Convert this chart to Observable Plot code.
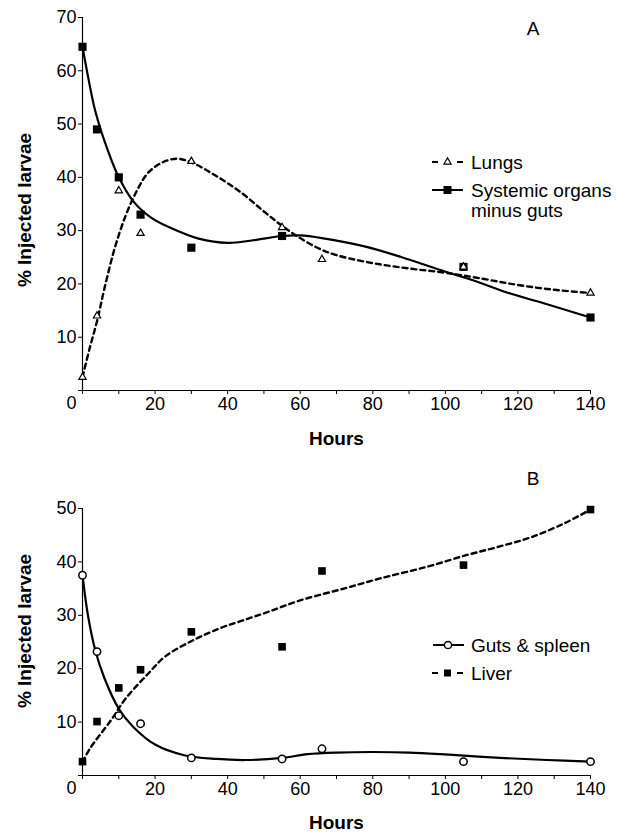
<!DOCTYPE html>
<html><head><meta charset="utf-8">
<script src="https://cdn.jsdelivr.net/npm/d3@7"></script>
<script src="https://cdn.jsdelivr.net/npm/@observablehq/plot@0.6"></script>
<style>
html,body{margin:0;padding:0;background:#fff;}
#chart svg{display:block;}
</style></head><body><div id="chart"></div>
<script>
// ---------- Panel A data ----------
const lungsHours = [0, 4, 10, 16, 30, 55, 66, 105, 140];
const lungs = [2.5, 14, 37.5, 29.5, 43, 30.6, 24.6, 23.2, 18.3];
const systemicHours = [0, 4, 10, 16, 30, 55, 105, 140];
const systemic = [64.5, 49, 40, 33, 26.8, 29, 23.2, 13.7];
// fitted curves
const lungsFitHours = [0, 2, 4, 6, 9, 12, 15, 18, 22, 26, 30, 37, 44, 50, 55, 60, 65, 70, 80, 90, 100, 110, 120, 130, 140];
const lungsFit = [2.5, 8, 13, 19, 27, 33, 37.5, 40.8, 42.8, 43.5, 42.8, 40.2, 37, 33.6, 30.9, 28.6, 26.7, 25.4, 23.9, 22.9, 22.1, 21, 19.8, 18.9, 18.3];
const systemicFitHours = [0, 1.5, 3.5, 7, 10, 14, 19, 25, 32, 40, 47, 55, 60, 66, 78, 88, 100, 108, 117, 126, 140];
const systemicFit = [64.5, 59, 52.5, 45, 40, 35.5, 32.4, 30.3, 28.5, 27.7, 28.2, 29, 29.1, 28.6, 27, 25, 22.3, 20.6, 18.4, 16.6, 13.7];

// ---------- Panel B data ----------
const hoursB = [0, 4, 10, 16, 30, 55, 66, 105, 140];
const guts = [37.5, 23.2, 11.2, 9.7, 3.3, 3.1, 5.0, 2.6, 2.6];
const liver = [2.6, 10.1, 16.4, 19.8, 26.9, 24.1, 38.3, 39.4, 49.8];
const gutsFitHours = [0, 1.5, 3.5, 6, 10, 14, 20, 28, 37, 45, 55, 62, 70, 80, 90, 101, 115, 128, 140];
const gutsFit = [37.5, 30, 23.5, 18.3, 12.5, 9.1, 5.8, 3.8, 3.1, 2.9, 3.3, 4, 4.3, 4.4, 4.3, 3.9, 3.3, 2.9, 2.6];
const liverFitHours = [0, 2, 8, 12, 18, 23, 31, 38, 44, 51, 60, 72, 82, 95, 106, 115, 124, 133, 140];
const liverFit = [2.5, 5, 10.5, 14.5, 19, 22.4, 25.5, 27.6, 29, 30.6, 32.8, 35, 36.9, 39.1, 41.3, 42.9, 44.7, 47.3, 49.8];

// ---------- ticks / labels ----------
const xTicks = [0, 10, 20, 30, 40, 50, 60, 70, 80, 90, 100, 110, 120, 130, 140];
const xTickLabels = [20, 40, 60, 80, 100, 120, 140];
const yTicksA = [0, 10, 20, 30, 40, 50, 60, 70];
const yTicksB = [0, 10, 20, 30, 40, 50];
const yTickLabels = [10, 20, 30, 40, 50, 60, 70];
const cornerLabel = ["0"];
const xTitle = "Hours";
const yTitle = "% Injected larvae";
const legendA = ["Lungs", "Systemic organs", "minus guts"];
const legendB = ["Guts & spleen", "Liver"];

const FONT = "'Liberation Sans', Arial, Helvetica, sans-serif";
const zipXY = (xs, ys) => xs.map((x, i) => ({x, y: ys[i]}));

function commonMarks(yTicks, titleDy) {
  return [
    Plot.ruleX([0], {stroke: "black", strokeWidth: 1.2}),
    Plot.ruleY([0], {stroke: "black", strokeWidth: 1.2}),
    Plot.axisX({ticks: xTicks, tickSize: 4, tickPadding: 3, label: null,
      tickFormat: d => xTickLabels.includes(d) ? String(d) : ""}),
    Plot.axisY({ticks: yTicks, tickSize: 4, tickPadding: 2, label: null,
      tickFormat: d => yTickLabels.includes(d) ? String(d) : ""}),
    Plot.text(cornerLabel, {x: () => 0, y: () => 0, text: d => d, textAnchor: "end", dx: -6, dy: 13, fontSize: 18}),
    Plot.text([yTitle], {frameAnchor: "left", text: d => d, rotate: -90, textAnchor: "middle", lineAnchor: "middle",
      dx: -58, dy: titleDy, fontWeight: "bold", fontSize: 19}),
  ];
}

function legendMark(kind) {
  return () => {
    const g = d3.create("svg:g").attr("font-family", FONT).attr("font-size", 19).attr("fill", "black").attr("text-anchor", "start");
    const x0 = 432, x1 = 463, xm = 447.5, tx = 471;
    if (kind === "A") {
      g.append("text").attr("x", 533).attr("y", 28).attr("dy", "0.35em").attr("text-anchor", "middle").text("A");
      const y1 = 162, y2 = 190, y3 = 210;
      g.append("line").attr("x1", x0).attr("x2", x0 + 6).attr("y1", y1).attr("y2", y1).attr("stroke", "black").attr("stroke-width", 2);
      g.append("line").attr("x1", x1 - 6).attr("x2", x1).attr("y1", y1).attr("y2", y1).attr("stroke", "black").attr("stroke-width", 2);
      g.append("path").attr("d", d3.symbol(d3.symbolTriangle, 22)()).attr("transform", `translate(${xm},${y1})`).attr("fill", "white").attr("stroke", "black").attr("stroke-width", 1.2);
      g.append("line").attr("x1", x0).attr("x2", x1).attr("y1", y2).attr("y2", y2).attr("stroke", "black").attr("stroke-width", 2);
      g.append("rect").attr("x", xm - 4).attr("y", y2 - 4).attr("width", 8).attr("height", 8).attr("fill", "black");
      g.append("text").attr("x", tx).attr("y", y1).attr("dy", "0.35em").text(legendA[0]);
      g.append("text").attr("x", tx).attr("y", y2).attr("dy", "0.35em").text(legendA[1]);
      g.append("text").attr("x", tx).attr("y", y3).attr("dy", "0.35em").text(legendA[2]);
    } else {
      g.append("text").attr("x", 533).attr("y", 28).attr("dy", "0.35em").attr("text-anchor", "middle").text("B");
      const y1 = 195, y2 = 223;
      g.append("line").attr("x1", x0 + 1).attr("x2", x1 + 1).attr("y1", y1).attr("y2", y1).attr("stroke", "black").attr("stroke-width", 2);
      g.append("circle").attr("cx", xm + 0.5).attr("cy", y1).attr("r", 3.6).attr("fill", "white").attr("stroke", "black").attr("stroke-width", 1.5);
      g.append("line").attr("x1", x0).attr("x2", x0 + 6).attr("y1", y2).attr("y2", y2).attr("stroke", "black").attr("stroke-width", 2);
      g.append("line").attr("x1", x1 - 6).attr("x2", x1).attr("y1", y2).attr("y2", y2).attr("stroke", "black").attr("stroke-width", 2);
      g.append("rect").attr("x", xm - 3.5).attr("y", y2 - 3.5).attr("width", 7).attr("height", 7).attr("fill", "black");
      g.append("text").attr("x", tx).attr("y", y1).attr("dy", "0.35em").text(legendB[0]);
      g.append("text").attr("x", tx).attr("y", y2).attr("dy", "0.35em").text(legendB[1]);
    }
    return g.node();
  };
}

const style = {fontFamily: FONT, fontSize: "18px", color: "black", background: "white", overflow: "visible"};

const plotA = Plot.plot({
  width: 629, height: 450,
  marginLeft: 82, marginRight: 39, marginTop: 17, marginBottom: 60,
  x: {domain: [0, 140]},
  y: {domain: [0, 70]},
  style,
  marks: [
    ...commonMarks(yTicksA, 6),
    Plot.text([xTitle], {frameAnchor: "bottom", text: d => d, lineAnchor: "middle", textAnchor: "middle", dy: 48, fontWeight: "bold", fontSize: 19}),
    Plot.line(zipXY(lungsFitHours, lungsFit), {x: "x", y: "y", curve: "catmull-rom", stroke: "black", strokeWidth: 2.4, strokeDasharray: "5,4"}),
    Plot.line(zipXY(systemicFitHours, systemicFit), {x: "x", y: "y", curve: "catmull-rom", stroke: "black", strokeWidth: 2.2}),
    Plot.dot(zipXY(systemicHours, systemic), {x: "x", y: "y", symbol: "square", r: 4.6, fill: "black", stroke: "none"}),
    Plot.dot(zipXY(lungsHours, lungs), {x: "x", y: "y", symbol: "triangle", r: 2.7, fill: "white", stroke: "black", strokeWidth: 1.2}),
    legendMark("A")
  ]
});

const plotB = Plot.plot({
  width: 629, height: 384,
  marginLeft: 82, marginRight: 39, marginTop: 58, marginBottom: 59,
  x: {domain: [0, 140]},
  y: {domain: [0, 50]},
  style,
  marks: [
    ...commonMarks(yTicksB, -11),
    Plot.text([xTitle], {frameAnchor: "bottom", text: d => d, lineAnchor: "middle", textAnchor: "middle", dy: 47, fontWeight: "bold", fontSize: 19}),
    Plot.line(zipXY(liverFitHours, liverFit), {x: "x", y: "y", curve: "catmull-rom", stroke: "black", strokeWidth: 2.4, strokeDasharray: "5,4"}),
    Plot.line(zipXY(gutsFitHours, gutsFit), {x: "x", y: "y", curve: "catmull-rom", stroke: "black", strokeWidth: 2.2}),
    Plot.dot(zipXY(hoursB, liver), {x: "x", y: "y", symbol: "square", r: 4.3, fill: "black", stroke: "none"}),
    Plot.dot(zipXY(hoursB, guts), {x: "x", y: "y", symbol: "circle", r: 3.7, fill: "white", stroke: "black", strokeWidth: 1.5}),
    legendMark("B")
  ]
});

document.getElementById("chart").append(plotA, plotB);
</script></body></html>
